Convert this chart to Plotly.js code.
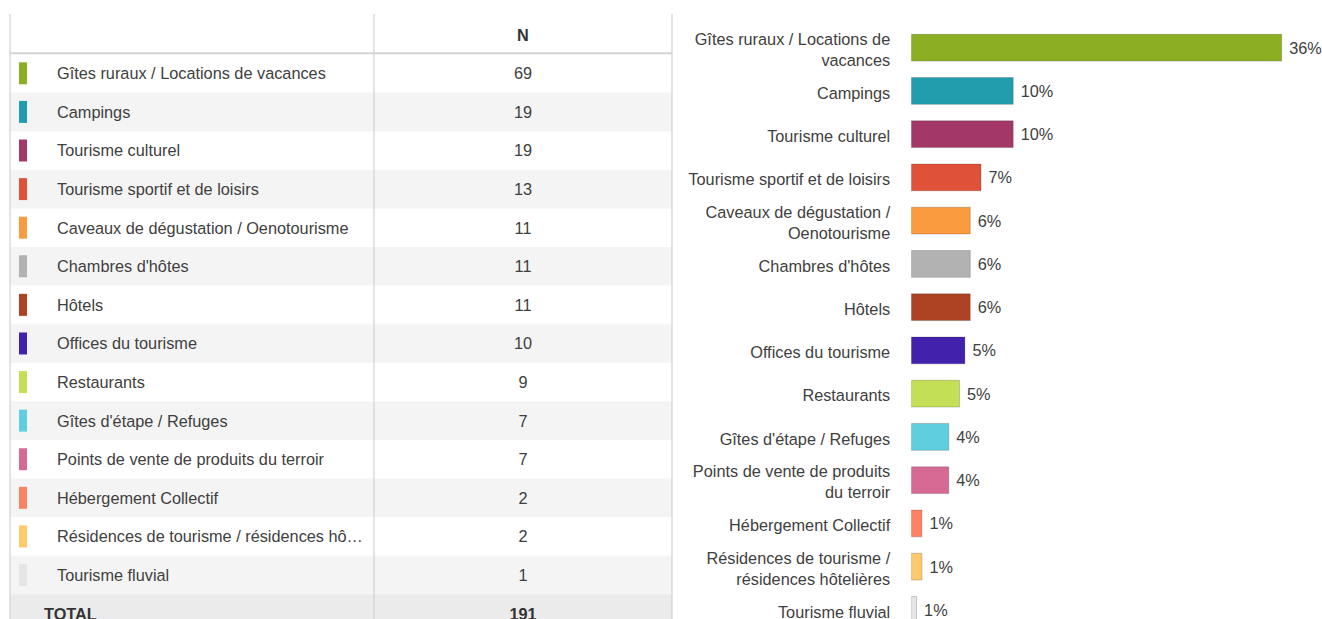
<!DOCTYPE html>
<html><head><meta charset="utf-8">
<script src="https://cdn.plot.ly/plotly-3.0.1.min.js"></script>
<style>html,body{margin:0;padding:0;background:#fff}#chart{width:1322px;height:619px}</style>
</head><body><div id="chart"></div>
<script>
const categories = [
  "Gîtes ruraux / Locations de vacances",
  "Campings",
  "Tourisme culturel",
  "Tourisme sportif et de loisirs",
  "Caveaux de dégustation / Oenotourisme",
  "Chambres d'hôtes",
  "Hôtels",
  "Offices du tourisme",
  "Restaurants",
  "Gîtes d'étape / Refuges",
  "Points de vente de produits du terroir",
  "Hébergement Collectif",
  "Résidences de tourisme / résidences hôtelières",
  "Tourisme fluvial"
];
const counts = [69, 19, 19, 13, 11, 11, 11, 10, 9, 7, 7, 2, 2, 1];
const colors = [
  "#8bae22", "#229dad", "#a33868", "#e0513a", "#f99b3e", "#b2b2b2", "#ad4322",
  "#4221ad", "#c2df55", "#5fcfe0", "#d76995", "#fd8262", "#fec96a", "#e5e5e5"
];
const barTickLabels = [
  "Gîtes ruraux / Locations de<br>vacances",
  "Campings",
  "Tourisme culturel",
  "Tourisme sportif et de loisirs",
  "Caveaux de dégustation /<br>Oenotourisme",
  "Chambres d'hôtes",
  "Hôtels",
  "Offices du tourisme",
  "Restaurants",
  "Gîtes d'étape / Refuges",
  "Points de vente de produits<br>du terroir",
  "Hébergement Collectif",
  "Résidences de tourisme /<br>résidences hôtelières",
  "Tourisme fluvial"
];
const tableRowLabels = [
  "Gîtes ruraux / Locations de vacances",
  "Campings",
  "Tourisme culturel",
  "Tourisme sportif et de loisirs",
  "Caveaux de dégustation / Oenotourisme",
  "Chambres d'hôtes",
  "Hôtels",
  "Offices du tourisme",
  "Restaurants",
  "Gîtes d'étape / Refuges",
  "Points de vente de produits du terroir",
  "Hébergement Collectif",
  "Résidences de tourisme / résidences hô…",
  "Tourisme fluvial"
];
const headerLabel = "N";
const totalLabel = "TOTAL";

const total = counts.reduce((a, b) => a + b, 0);
const pctText = counts.map(c => "\u00a0" + Math.round(c / total * 100) + "%");
const rows = categories.map((_, i) => i);
const nRows = categories.length;

const FONT = '"Liberation Sans", Arial, sans-serif';
const FS = 16.3;
const TXT = "#404040";
const W = 1322, H = 619;

// table geometry (table-axis units: x in px, y in rows)
const tblLeft = 10, tblMid = 374, tblRight = 672;
const colMarker = 23, colLabel = 57, colN = 523, colTotal = 44;
const tblYBottom = 14.14, tblYTop = -1.9;
const textShift = 0.05;

const traces = [
  {
    type: "bar", orientation: "h",
    y: categories, x: counts,
    width: 0.62,
    marker: { color: colors, line: { color: "rgba(0,0,0,0.18)", width: 1 } },
    text: pctText, textposition: "outside", cliponaxis: false, constraintext: "none",
    textfont: { family: FONT, size: FS, color: TXT },
    hoverinfo: "none", xaxis: "x", yaxis: "y"
  },
  {
    type: "scatter", mode: "markers",
    x: rows.map(() => colMarker), y: rows,
    marker: { symbol: "line-ns-open", size: 15.7, color: colors, line: { width: 8, color: colors } },
    hoverinfo: "none", xaxis: "x2", yaxis: "y2"
  },
  {
    type: "scatter", mode: "text",
    x: rows.map(() => colLabel), y: rows,
    text: tableRowLabels, textposition: "middle right",
    textfont: { family: FONT, size: FS, color: TXT },
    hoverinfo: "none", xaxis: "x2", yaxis: "y3"
  },
  {
    type: "scatter", mode: "text",
    x: rows.map(() => colN), y: rows,
    text: counts.map(String), textposition: "middle center",
    textfont: { family: FONT, size: FS, color: TXT },
    hoverinfo: "none", xaxis: "x2", yaxis: "y3"
  },
  {
    type: "scatter", mode: "text",
    x: [colN, colTotal, colN], y: [-1, nRows, nRows],
    text: ["<b>" + headerLabel + "</b>", "<b>" + totalLabel + "</b>", "<b>" + total + "</b>"],
    textposition: ["middle center", "middle right", "middle center"],
    textfont: { family: FONT, size: FS, color: "#333333" },
    hoverinfo: "none", xaxis: "x2", yaxis: "y3"
  }
];

const shapes = [];
rows.forEach(i => {
  if (i % 2 === 1) {
    shapes.push({ type: "rect", xref: "x2", yref: "y2", x0: tblLeft, x1: tblRight, y0: i - 0.5, y1: i + 0.5,
      fillcolor: "#f4f4f4", line: { width: 0 }, layer: "below" });
  }
});
shapes.push({ type: "rect", xref: "x2", yref: "y2", x0: tblLeft, x1: tblRight, y0: nRows - 0.5, y1: tblYBottom,
  fillcolor: "#ebebeb", line: { width: 0 }, layer: "below" });
[tblLeft, tblMid, tblRight].forEach(xv => {
  shapes.push({ type: "line", xref: "x2", yref: "y2", x0: xv, x1: xv, y0: -1.54, y1: tblYBottom,
    line: { color: "#d0d0d0", width: 1.2 }, layer: "below" });
});
shapes.push({ type: "line", xref: "x2", yref: "y2", x0: tblLeft, x1: tblRight, y0: -0.52, y1: -0.52,
  line: { color: "#d4d4d4", width: 2 }, layer: "below" });

const barLeft = 911.2, pxPerCount = 5.369;

const layout = {
  width: W, height: H,
  margin: { l: 0, r: 0, t: 0, b: 0, pad: 0 },
  paper_bgcolor: "#ffffff", plot_bgcolor: "rgba(0,0,0,0)",
  showlegend: false,
  font: { family: FONT, size: FS, color: TXT },
  xaxis: { domain: [barLeft / W, 1], range: [0, (W - barLeft) / pxPerCount], visible: false, anchor: "y", fixedrange: true },
  yaxis: {
    domain: [0, 1], range: [13.21, -1.103], anchor: "x",
    tickmode: "array", tickvals: categories, ticktext: barTickLabels,
    tickfont: { family: FONT, size: FS, color: TXT },
    showgrid: false, zeroline: false, showline: false, ticks: "",
    ticklabelstandoff: 20, ticklabelshift: -2, fixedrange: true
  },
  xaxis2: { domain: [0, 674 / W], range: [0, 674], visible: false, anchor: "y2", fixedrange: true },
  yaxis2: { domain: [0, 1], range: [tblYBottom, tblYTop], visible: false, anchor: "x2", fixedrange: true },
  yaxis3: { domain: [0, 1], range: [tblYBottom - textShift, tblYTop - textShift], visible: false, anchor: "x2", overlaying: "y2", fixedrange: true },
  shapes: shapes
};

Plotly.newPlot("chart", traces, layout, { displayModeBar: false, staticPlot: true });
</script>
</body></html>
